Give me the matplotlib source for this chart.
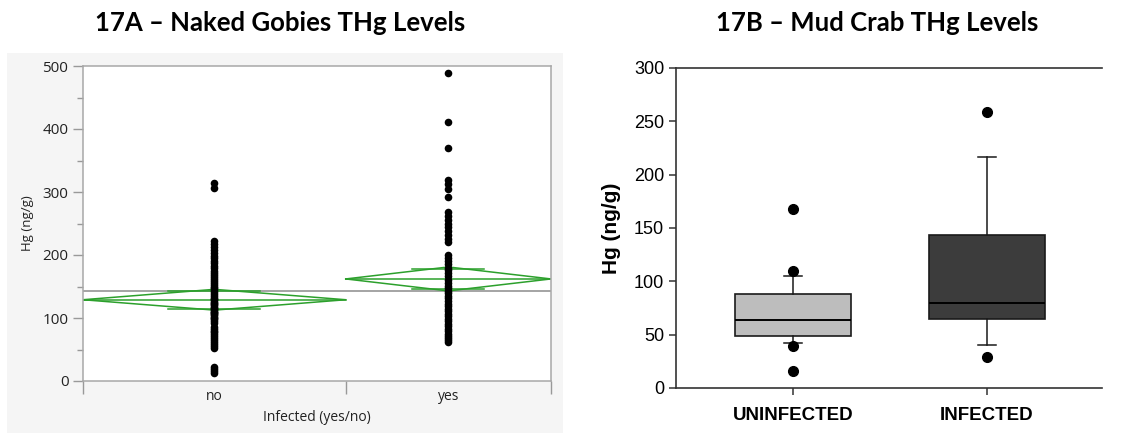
import matplotlib
matplotlib.use("Agg")
import matplotlib.pyplot as plt
import numpy as np

# ---------------- data ----------------
# 17A - naked gobies (individual THg values, ng/g)
goby_groups = ["no", "yes"]
goby_no = [315, 307, 222, 218, 213, 208, 203, 199, 195, 191,
           187, 183, 179, 175, 171, 168, 165, 162, 159, 156,
           153, 150, 147, 144, 141, 138, 135, 132, 130, 128,
           126, 124, 122, 120, 118, 116, 114, 112, 110, 108,
           106, 104, 102, 100, 98, 95, 92, 86, 83, 80,
           77, 74, 71, 68, 65, 62, 59, 56, 53, 22,
           19, 16, 13, 110]
goby_yes = [489, 411, 370, 319, 312, 305, 292, 268, 262, 256,
            250, 244, 238, 232, 226, 220, 200, 195, 190, 185,
            180, 176, 171, 166, 161, 156, 151, 147, 143, 139,
            135, 131, 127, 123, 119, 115, 111, 107, 103, 99,
            95, 91, 87, 83, 79, 75, 71, 68, 65, 62]
goby_means = [129, 162]
goby_ci_half = [16.5, 19]
goby_grand_mean = 143
goby_yticks = [0, 100, 200, 300, 400, 500]

# 17B - mud crab box plot statistics
crab_groups = ["UNINFECTED", "INFECTED"]
crab_q1 = [49, 65]
crab_med = [64, 79.5]
crab_q3 = [88.5, 143]
crab_whislo = [42, 40.5]
crab_whishi = [105, 216.5]
crab_fliers = [[167.5, 109.5, 39, 15.5], [259, 29]]
crab_colors = ["#bdbdbd", "#3c3c3c"]
crab_yticks = [0, 50, 100, 150, 200, 250, 300]

# ---------------- figure ----------------
W, H = 1135, 434
fig = plt.figure(figsize=(W / 100, H / 100), dpi=100)
fig.patch.set_facecolor("white")


def rect(l, t, r, b):
    return [l / W, 1 - b / H, (r - l) / W, (b - t) / H]


# grey JMP frame
bg = fig.add_axes(rect(7, 53, 563, 433))
bg.set_facecolor("#f5f5f5")
bg.set_xticks([])
bg.set_yticks([])
for s in bg.spines.values():
    s.set_visible(False)

# titles
fig.text(280 / W, 1 - 23 / H, "17A \u2013 Naked Gobies THg Levels", ha="center", va="center",
         fontsize=18.5, fontweight="bold", family="Lato")
fig.text(877 / W, 1 - 23 / H, "17B \u2013 Mud Crab THg Levels", ha="center", va="center",
         fontsize=18.5, fontweight="bold", family="Lato")

# ---------------- 17A ----------------
axA = fig.add_axes(rect(83, 66, 551, 381))
axA.set_facecolor("white")
n = [len(goby_no), len(goby_yes)]
edges = [0, n[0], n[0] + n[1]]
centers = [(edges[i] + edges[i + 1]) / 2 for i in range(2)]
axA.set_xlim(0, edges[-1])
axA.set_ylim(0, 500)

green = "#2ca02c"
for i, vals in enumerate([goby_no, goby_yes]):
    axA.scatter([centers[i]] * len(vals), vals, s=30, color="black", zorder=3, linewidths=0)
    m, h = goby_means[i], goby_ci_half[i]
    x0, x1 = edges[i], edges[i + 1]
    c = centers[i]
    axA.plot([x0, c, x1, c, x0], [m, m + h, m, m - h, m], color=green, lw=1.1, zorder=2)
    axA.plot([x0, x1], [m, m], color=green, lw=1.1, zorder=2)
    hw = (x1 - x0) / 2
    for sgn in (1, -1):
        yo = m + sgn * h * 0.85
        d = hw * 0.35
        axA.plot([c - d, c + d], [yo, yo], color=green, lw=1.1, zorder=2)

axA.axhline(goby_grand_mean, color="#8c8c8c", lw=1.1, zorder=1)

axA.set_yticks(goby_yticks)
axA.set_yticks([50, 150, 250, 350, 450], minor=True)
axA.set_xticks(centers)
axA.set_xticklabels(goby_groups)
axA.set_xticks(edges, minor=True)
axA.tick_params(axis="y", which="major", length=7, color="#999999", labelsize=11,
                labelcolor="#222222", width=1)
axA.tick_params(axis="y", which="minor", length=4, color="#999999", width=1)
axA.tick_params(axis="x", which="major", length=0, labelsize=10, labelcolor="#222222", pad=6)
axA.tick_params(axis="x", which="minor", length=9, color="#999999", width=1)
for lab in axA.get_yticklabels() + axA.get_xticklabels():
    lab.set_family("Open Sans")
for s in axA.spines.values():
    s.set_color("#a8a8a8")
    s.set_linewidth(1.1)
axA.set_ylabel("Hg (ng/g)", fontsize=9.5, family="Open Sans", color="#222222", labelpad=6)
axA.set_xlabel("Infected (yes/no)", fontsize=10, family="Open Sans", color="#222222", labelpad=4)

# ---------------- 17B ----------------
axB = fig.add_axes(rect(676, 68, 1102, 388))
axB.set_facecolor("white")
stats = []
for i in range(2):
    stats.append(dict(med=crab_med[i], q1=crab_q1[i], q3=crab_q3[i],
                      whislo=crab_whislo[i], whishi=crab_whishi[i],
                      fliers=crab_fliers[i], label=crab_groups[i]))
bp = axB.bxp(stats, positions=[1, 2], widths=0.6, patch_artist=True,
             boxprops=dict(edgecolor="#1a1a1a", linewidth=1.2),
             medianprops=dict(color="black", linewidth=1.4),
             whiskerprops=dict(color="#1a1a1a", linewidth=1.1),
             capprops=dict(color="#1a1a1a", linewidth=1.1),
             capwidths=0.09,
             flierprops=dict(marker="o", markerfacecolor="black", markeredgecolor="black",
                             markersize=7))
for patch, col in zip(bp["boxes"], crab_colors):
    patch.set_facecolor(col)

axB.set_xlim(0.397, 2.593)
axB.set_ylim(0, 300)
axB.set_yticks(crab_yticks)
axB.set_xticks([1, 2])
axB.set_xticklabels(crab_groups)
axB.spines["right"].set_visible(False)
for s in ["top", "left", "bottom"]:
    axB.spines[s].set_color("#333333")
    axB.spines[s].set_linewidth(1.2)
axB.tick_params(axis="y", length=5, width=1.1, color="#333333", labelsize=13)
axB.tick_params(axis="x", length=5, width=1.1, color="#333333", labelsize=13.5, pad=9)
for lab in axB.get_yticklabels():
    lab.set_family("Liberation Sans")
for lab in axB.get_xticklabels():
    lab.set_family("Liberation Sans")
    lab.set_fontweight("bold")
axB.set_ylabel("Hg (ng/g)", fontsize=15, fontweight="bold", family="Liberation Sans", labelpad=9)

fig.savefig("out.png", dpi=100)
